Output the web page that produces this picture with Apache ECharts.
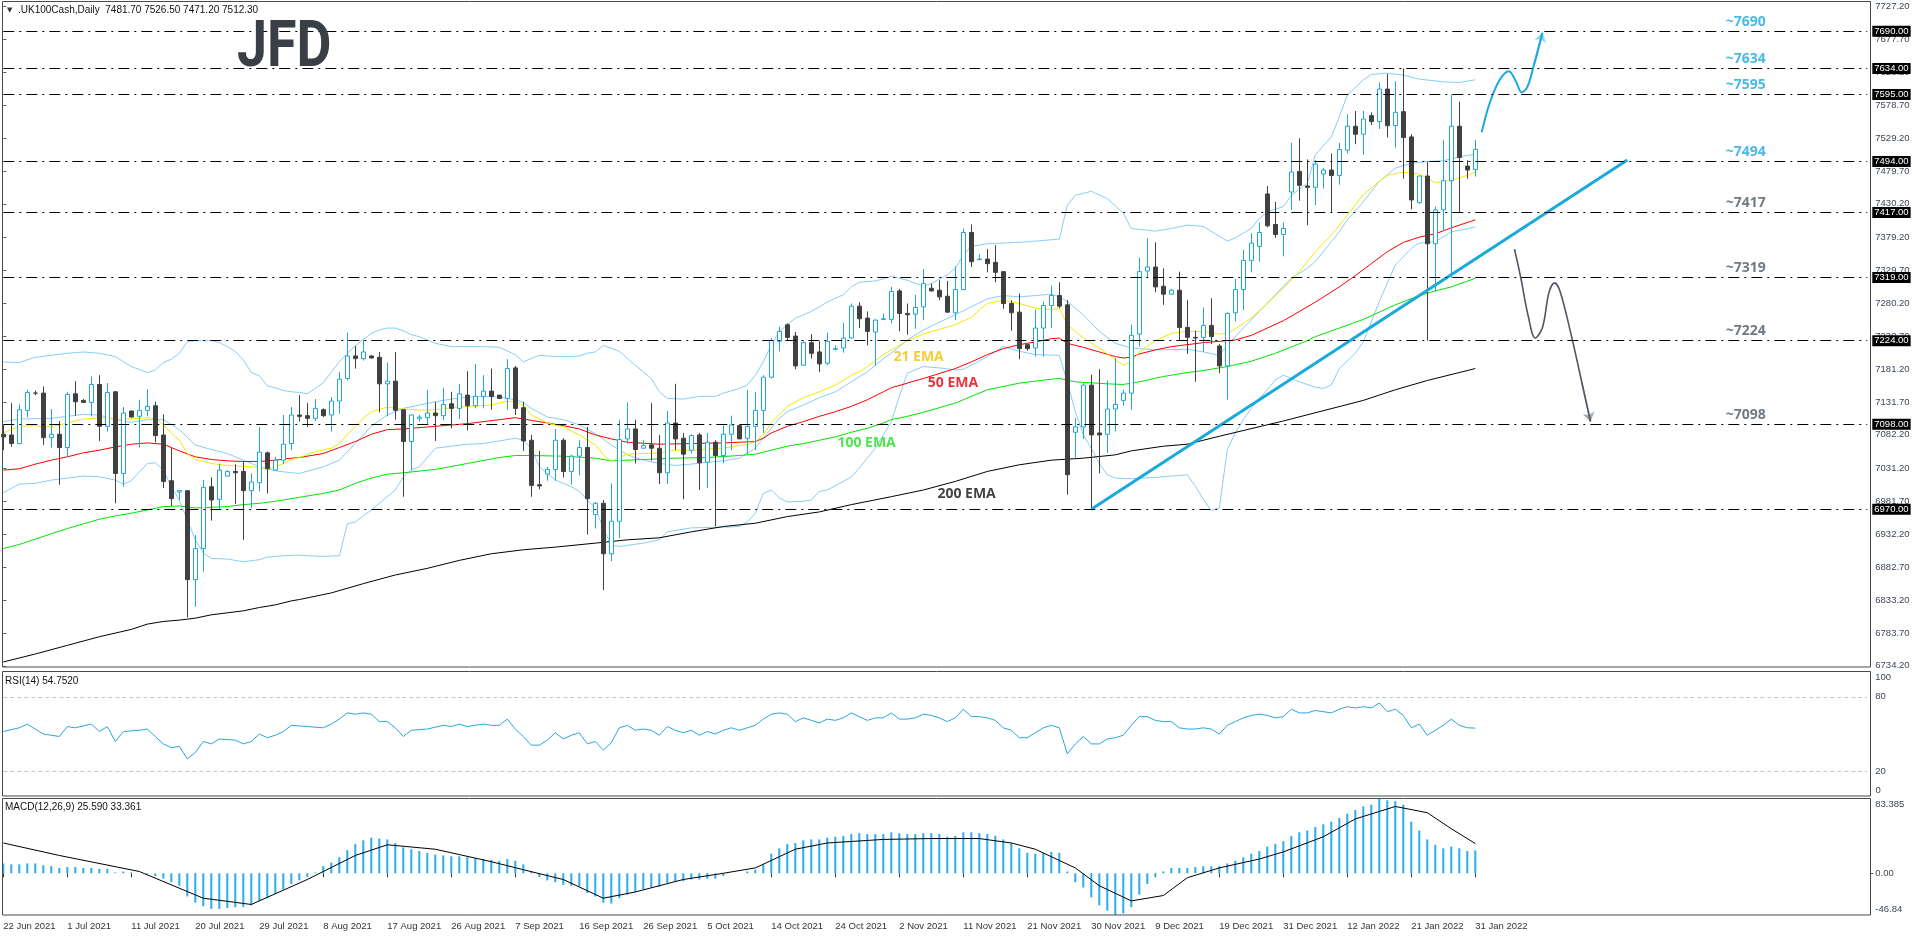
<!DOCTYPE html>
<html>
<head>
<meta charset="utf-8">
<title>UK100Cash Daily</title>
<script src="https://cdn.jsdelivr.net/npm/echarts@6/dist/echarts.min.js"></script>
<style>
  html, body { margin: 0; padding: 0; background: #fff; }
  #chart { width: 1916px; height: 936px; }
</style>
</head>
<body>
<div id="chart"></div>
<script>
// ---- values ----
const tickLabels = ['22 Jun 2021', '1 Jul 2021', '11 Jul 2021', '20 Jul 2021', '29 Jul 2021', '8 Aug 2021',
  '17 Aug 2021', '26 Aug 2021', '7 Sep 2021', '16 Sep 2021', '26 Sep 2021', '5 Oct 2021', '14 Oct 2021',
  '24 Oct 2021', '2 Nov 2021', '11 Nov 2021', '21 Nov 2021', '30 Nov 2021', '9 Dec 2021', '19 Dec 2021',
  '31 Dec 2021', '12 Jan 2022', '21 Jan 2022', '31 Jan 2022'];

// daily bars: [open, close, low, high]
const candles = [
  [7083,7079,7059,7097],[7082,7069,7064,7130],[7069,7120,7068,7128],[7119,7146,7109,7150],[7145,7145,7142,7149],
  [7145,7078,7067,7155],[7078,7083,7063,7121],[7083,7063,7007,7103],[7063,7143,7049,7147],[7144,7132,7111,7163],
  [7134,7131,7131,7136],[7131,7158,7110,7170],[7158,7095,7073,7172],[7095,7146,7087,7160],[7147,7024,6979,7148],
  [7024,7115,7004,7124],[7118,7109,7108,7119],[7110,7119,7063,7135],[7119,7125,7110,7151],[7126,7081,7071,7132],
  [7082,7012,7002,7113],[7013,6986,6975,7062],[6996,6998,6984,6999],[6998,6864,6807,6998],[6864,6911,6823,6931],
  [6911,7003,6876,7014],[7004,6984,6953,7018],[6985,7029,6970,7039],[7020,7027,7019,7029],[7027,7025,6978,7038],
  [7027,6998,6924,7043],[6998,7011,6972,7024],[7010,7056,6997,7094],[7055,7031,6994,7057],[7029,7044,7029,7049],
  [7044,7068,7038,7112],[7069,7112,7059,7124],[7112,7110,7102,7142],[7111,7107,7094,7130],[7107,7122,7103,7136],
  [7120,7111,7109,7122],[7112,7133,7087,7139],[7133,7166,7114,7177],[7167,7201,7164,7236],[7201,7197,7182,7216],
  [7197,7207,7194,7225],[7201,7198,7197,7202],[7199,7159,7116,7207],[7159,7163,7110,7191],[7163,7119,7105,7207],
  [7120,7072,6989,7120],[7072,7112,7029,7113],[7107,7109,7102,7112],[7108,7115,7097,7150],[7115,7111,7073,7132],
  [7111,7128,7104,7153],[7129,7122,7092,7147],[7122,7144,7106,7159],[7142,7126,7089,7178],[7126,7140,7122,7189],
  [7140,7148,7122,7172],[7148,7140,7120,7182],[7142,7137,7136,7142],[7137,7182,7120,7196],[7183,7122,7112,7186],
  [7123,7073,7058,7132],[7074,7006,6989,7082],[7007,7005,7000,7058],[7023,7030,7013,7034],[7030,7074,7013,7091],
  [7074,7027,7018,7077],[7027,7050,7007,7052],[7050,7063,7021,7074],[7063,6986,6932,7094],[6962,6979,6941,6981],
  [6979,6903,6848,6984],[6903,6952,6892,7009],[6952,7075,6927,7105],[7076,7091,7069,7131],[7091,7060,7039,7105],
  [7062,7066,7062,7074],[7067,7062,7043,7130],[7062,7025,7008,7082],[7025,7100,7008,7118],[7100,7076,7059,7159],
  [7077,7053,6985,7085],[7059,7081,7054,7083],[7082,7040,6999,7085],[7041,7071,7002,7085],[7071,7051,6944,7074],
  [7051,7083,7039,7096],[7083,7097,7059,7111],[7096,7076,7076,7097],[7077,7095,7052,7150],[7095,7119,7059,7147],
  [7119,7169,7085,7172],[7169,7224,7167,7228],[7223,7238,7208,7245],[7248,7229,7224,7250],[7231,7186,7181,7237],
  [7187,7221,7187,7224],[7221,7205,7197,7234],[7207,7189,7177,7223],[7190,7223,7187,7236],[7211,7212,7209,7217],
  [7213,7228,7206,7251],[7228,7276,7227,7280],[7276,7257,7243,7282],[7258,7238,7217,7268],[7237,7255,7187,7256],
  [7256,7257,7255,7265],[7256,7298,7250,7305],[7299,7265,7238,7302],[7265,7263,7233,7280],[7264,7274,7242,7293],
  [7275,7310,7255,7332],[7303,7299,7298,7310],[7300,7290,7285,7315],[7291,7267,7266,7314],[7266,7301,7255,7336],
  [7301,7387,7300,7393],[7387,7343,7335,7399],[7346,7347,7346,7354],[7347,7340,7327,7362],[7342,7327,7312,7368],
  [7328,7280,7272,7328],[7280,7266,7239,7285],[7267,7212,7196,7295],[7218,7212,7209,7219],[7213,7243,7200,7271],
  [7243,7277,7200,7283],[7277,7292,7243,7307],[7292,7276,7273,7312],[7278,7022,6992,7285],[7086,7094,7048,7107],
  [7094,7157,7076,7160],[7157,7082,6970,7173],[7085,7082,7024,7181],[7083,7121,7055,7164],[7121,7128,7087,7198],
  [7134,7145,7126,7150],[7145,7232,7120,7248],[7234,7328,7215,7349],[7329,7335,7318,7378],[7335,7305,7297,7372],
  [7306,7294,7278,7333],[7294,7300,7293,7302],[7300,7244,7224,7328],[7244,7229,7204,7285],[7229,7228,7162,7239],
  [7229,7247,7207,7274],[7247,7230,7219,7288],[7216,7186,7175,7219],[7186,7265,7135,7267],[7266,7301,7253,7317],
  [7301,7345,7270,7361],[7345,7371,7327,7386],[7366,7387,7343,7402],[7445,7397,7395,7457],[7399,7384,7379,7433],
  [7384,7393,7351,7402],[7448,7478,7421,7522],[7479,7458,7435,7529],[7457,7455,7398,7497],[7455,7490,7428,7496],
  [7475,7481,7453,7484],[7481,7473,7418,7506],[7473,7512,7459,7522],[7511,7547,7506,7565],[7547,7535,7520,7570],
  [7535,7558,7504,7570],[7563,7554,7549,7568],[7554,7603,7543,7613],[7603,7548,7530,7626],[7548,7568,7515,7615],
  [7569,7530,7468,7634],[7531,7436,7422,7535],[7432,7472,7430,7473],[7472,7370,7224,7494],[7370,7421,7298,7426],
  [7421,7465,7389,7526],[7465,7547,7319,7595],[7547,7500,7418,7584],[7487,7481,7468,7496],[7481.7,7512.3,7471.2,7526.5]
];

// indicator lines: [bar index, value]
const ema21 = [[0,7085],[2,7095],[4,7096],[6,7094],[8,7100],[10,7106],[12,7108],[14,7106],[16,7106],[18,7108],[19,7107],
  [20,7097],[21,7085],[22,7074],[23,7054],[24,7045],[26,7039],[28,7036],[30,7035],[32,7033],[33,7031],[34,7034],[35,7039],
  [36,7045],[37,7048],[39,7057],[41,7062],[42,7069],[43,7082],[44,7095],[45,7107],[46,7117],[48,7124],[50,7121],[53,7119],
  [57,7124],[61,7127],[63,7133],[64,7132],[65,7127],[66,7112],[68,7100],[70,7094],[72,7082],[74,7067],[75,7052],[76,7042],
  [77,7048],[78,7053],[80,7054],[82,7055],[84,7059],[86,7059],[88,7061],[90,7062],[92,7066],[93,7067],[94,7072],[95,7082],
  [96,7100],[97,7112],[98,7125],[100,7138],[102,7147],[104,7157],[106,7172],[107,7177],[108,7185],[110,7203],[111,7210],
  [113,7224],[115,7234],[117,7241],[119,7248],[121,7259],[122,7270],[123,7280],[125,7285],[127,7280],[129,7273],[131,7271],
  [132,7273],[133,7248],[135,7228],[137,7213],[139,7195],[140,7187],[141,7192],[142,7207],[144,7224],[146,7235],[148,7238],
  [150,7238],[152,7234],[153,7235],[154,7242],[156,7258],[158,7280],[160,7303],[162,7328],[164,7358],[166,7383],[168,7413],
  [170,7444],[172,7464],[173,7473],[175,7478],[177,7475],[179,7462],[181,7465],[183,7473],[184,7478]];
const ema50 = [[0,7029],[2,7031],[4,7038],[6,7044],[8,7049],[10,7055],[12,7059],[14,7064],[16,7068],[18,7070],[20,7068],
  [22,7058],[24,7049],[26,7045],[28,7043],[30,7042],[32,7042],[34,7044],[36,7047],[37,7048],[40,7054],[42,7063],[44,7072],
  [46,7083],[48,7090],[50,7091],[54,7095],[58,7099],[62,7105],[64,7108],[66,7104],[68,7100],[70,7096],[72,7091],[74,7082],
  [76,7076],[78,7071],[82,7068],[86,7069],[90,7070],[94,7072],[95,7077],[96,7085],[98,7095],[100,7102],[102,7110],[104,7117],
  [106,7125],[108,7135],[110,7147],[111,7153],[115,7167],[119,7182],[121,7192],[123,7203],[125,7212],[127,7218],[129,7222],
  [131,7227],[132,7228],[133,7220],[135,7214],[137,7207],[139,7200],[140,7198],[141,7199],[142,7204],[144,7210],[146,7215],
  [148,7218],[150,7221],[154,7225],[156,7232],[158,7243],[160,7254],[164,7282],[167,7305],[169,7322],[171,7340],[173,7358],
  [175,7372],[177,7380],[179,7385],[181,7394],[184,7406]];
const ema100 = [[0,6911],[2,6917],[4,6925],[6,6933],[8,6941],[10,6948],[12,6955],[14,6960],[16,6964],[18,6969],[20,6974],
  [22,6975],[24,6972],[26,6973],[28,6974],[30,6977],[32,6979],[34,6982],[36,6986],[37,6988],[40,6994],[42,6999],[44,7009],
  [46,7017],[48,7023],[50,7025],[54,7030],[58,7039],[62,7048],[64,7051],[66,7051],[70,7050],[74,7047],[76,7043],[80,7045],
  [84,7047],[88,7048],[92,7051],[94,7053],[96,7059],[98,7065],[100,7069],[102,7074],[104,7079],[106,7086],[108,7092],
  [110,7100],[111,7105],[113,7110],[115,7116],[117,7123],[119,7130],[123,7150],[127,7160],[131,7166],[132,7167],[134,7162],
  [138,7159],[140,7158],[142,7162],[145,7170],[148,7176],[150,7179],[153,7185],[156,7193],[159,7205],[163,7224],[164,7230],
  [167,7243],[170,7256],[172,7267],[174,7278],[177,7292],[179,7299],[181,7305],[184,7318]];
const ema200 = [[0,6740],[4,6752],[8,6765],[12,6778],[16,6789],[18,6797],[20,6801],[22,6803],[24,6806],[26,6811],[28,6814],
  [30,6817],[32,6822],[34,6826],[36,6832],[37,6834],[41,6844],[45,6858],[49,6871],[53,6881],[57,6893],[61,6903],[65,6909],
  [69,6913],[74,6919],[78,6924],[82,6927],[86,6936],[90,6944],[94,6949],[98,6959],[102,6966],[106,6977],[111,6989],
  [115,6999],[119,7012],[123,7027],[127,7037],[131,7044],[135,7047],[139,7052],[141,7058],[145,7065],[148,7068],[152,7080],
  [160,7103],[170,7134],[174,7150],[178,7164],[184,7182]];
const bbUpper = [[0,7192],[2,7191],[4,7199],[6,7202],[8,7205],[10,7207],[12,7205],[14,7200],[16,7185],[18,7176],[19,7180],
  [20,7191],[21,7196],[22,7205],[23,7222],[24,7224],[26,7224],[27,7221],[28,7215],[29,7208],[30,7195],[31,7176],[32,7171],
  [33,7156],[34,7153],[35,7149],[36,7147],[37,7146],[38,7144],[39,7152],[40,7161],[42,7192],[43,7205],[44,7216],[45,7226],
  [46,7235],[47,7240],[48,7243],[49,7243],[50,7239],[51,7233],[52,7230],[54,7220],[56,7215],[58,7215],[60,7215],[62,7214],
  [64,7203],[65,7192],[66,7197],[67,7202],[69,7200],[71,7200],[72,7201],[73,7205],[74,7207],[75,7217],[77,7208],[79,7187],
  [81,7167],[82,7147],[83,7137],[85,7136],[87,7140],[89,7140],[90,7145],[92,7152],[93,7157],[94,7172],[95,7192],[96,7218],
  [97,7238],[98,7248],[99,7258],[100,7263],[101,7268],[102,7275],[103,7282],[104,7288],[105,7293],[106,7305],[107,7312],
  [109,7314],[110,7317],[111,7321],[113,7315],[115,7306],[116,7310],[118,7323],[119,7333],[120,7353],[121,7366],[123,7370],
  [125,7371],[128,7373],[132,7377],[133,7428],[134,7443],[136,7449],[138,7438],[140,7416],[141,7393],[144,7389],[146,7393],
  [148,7398],[150,7396],[153,7374],[154,7379],[156,7393],[157,7408],[158,7418],[160,7426],[161,7443],[163,7461],[164,7504],
  [166,7531],[167,7561],[168,7594],[170,7617],[171,7625],[173,7627],[175,7624],[177,7618],[180,7614],[182,7613],[184,7617]];
const bbMiddle = [[0,7102],[2,7106],[6,7107],[8,7110],[10,7113],[12,7112],[14,7105],[16,7101],[18,7105],[20,7105],[22,7090],
  [24,7067],[26,7060],[28,7054],[30,7044],[32,7034],[34,7028],[36,7025],[37,7024],[40,7034],[42,7044],[44,7069],[46,7095],
  [48,7112],[50,7122],[52,7127],[54,7132],[56,7136],[58,7139],[60,7140],[62,7139],[64,7135],[65,7131],[66,7122],[68,7109],
  [70,7105],[72,7097],[74,7084],[76,7067],[78,7052],[80,7044],[82,7039],[84,7036],[86,7038],[88,7041],[90,7043],[92,7047],
  [94,7062],[95,7077],[96,7092],[97,7107],[98,7117],[100,7127],[102,7138],[104,7147],[106,7162],[108,7177],[110,7197],
  [111,7205],[113,7225],[115,7240],[117,7252],[119,7263],[121,7275],[123,7287],[125,7292],[127,7290],[129,7292],[131,7294],
  [132,7290],[133,7283],[135,7263],[137,7238],[139,7220],[141,7213],[144,7210],[148,7211],[150,7207],[152,7202],[153,7217],
  [155,7243],[157,7268],[159,7293],[161,7318],[163,7333],[164,7343],[166,7373],[167,7388],[168,7406],[170,7433],[172,7464],
  [174,7484],[176,7491],[178,7494],[180,7495],[182,7501],[184,7505]];
const bbLower = [[0,6995],[2,7008],[4,7009],[6,7014],[8,7017],[10,7020],[12,7019],[14,7014],[15,7008],[16,7013],[18,7039],
  [19,7040],[20,7029],[21,7004],[22,6984],[23,6954],[24,6924],[25,6904],[26,6896],[28,6895],[30,6891],[32,6894],[33,6898],
  [35,6900],[37,6901],[38,6900],[40,6899],[42,6900],[43,6948],[44,6951],[46,6969],[48,6989],[49,6999],[50,7019],[51,7029],
  [52,7034],[54,7062],[56,7065],[58,7068],[60,7069],[62,7073],[64,7077],[65,7074],[66,7062],[67,7034],[68,7024],[69,7014],
  [71,7004],[72,6997],[73,6984],[74,6972],[75,6941],[76,6916],[77,6914],[80,6919],[82,6924],[83,6936],[86,6942],[90,6943],
  [92,6944],[93,6951],[94,6964],[95,6994],[96,6999],[97,6987],[98,6981],[100,6982],[101,6984],[102,6997],[103,6999],
  [105,7012],[106,7019],[107,7032],[109,7062],[111,7102],[112,7140],[113,7175],[115,7185],[117,7183],[119,7180],[120,7181],
  [121,7187],[123,7200],[125,7215],[127,7208],[129,7203],[132,7202],[133,7162],[134,7117],[135,7082],[136,7062],[137,7039],
  [138,7022],[139,7017],[141,7016],[144,7018],[148,7022],[149,7005],[150,6985],[151,6968],[152,6972],[153,7060],[154,7085],
  [155,7105],[156,7122],[157,7137],[158,7150],[159,7165],[160,7172],[162,7162],[164,7154],[165,7152],[166,7157],[167,7182],
  [169,7205],[170,7222],[172,7283],[174,7338],[176,7363],[177,7371],[179,7373],[181,7388],[184,7395]];

const rsi = [[0,52],[2,55],[3,58],[5,50],[7,48],[8,56],[9,55],[11,58],[12,52],[13,56],[14,44],[15,52],[17,53],[18,54],[19,48],
  [20,42],[21,39],[22,40],[23,30],[24,35],[25,44],[26,42],[27,46],[29,45],[30,42],[31,44],[32,50],[33,47],[34,49],[35,52],
  [36,57],[38,56],[40,55],[41,58],[42,62],[43,67],[44,66],[45,67],[46,66],[47,60],[48,60],[49,55],[50,48],[51,53],[53,54],
  [55,57],[56,56],[57,58],[58,56],[59,57],[60,58],[61,57],[62,57],[63,62],[64,54],[65,48],[66,41],[67,41],[68,45],[69,51],
  [70,46],[71,49],[72,51],[73,42],[74,44],[75,37],[76,43],[77,55],[78,57],[79,53],[80,54],[81,53],[82,49],[83,56],[84,53],
  [85,51],[86,53],[87,49],[88,52],[89,50],[90,53],[91,55],[92,53],[93,55],[94,57],[95,62],[96,66],[97,67],[98,66],[99,60],
  [100,63],[101,61],[102,59],[103,62],[104,61],[105,63],[106,67],[107,64],[108,61],[109,63],[110,63],[111,67],[112,62],
  [113,62],[114,63],[115,66],[116,65],[117,63],[118,60],[119,63],[120,70],[121,64],[122,64],[123,63],[124,61],[125,55],
  [126,53],[127,47],[128,47],[129,51],[130,55],[131,57],[132,55],[133,34],[134,42],[135,48],[136,42],[137,42],[138,46],
  [139,47],[140,49],[141,57],[142,64],[143,64],[144,61],[145,60],[146,60],[147,55],[148,54],[149,54],[150,55],[151,54],
  [152,50],[153,57],[154,60],[155,63],[156,65],[157,66],[158,65],[159,63],[160,64],[161,70],[162,67],[163,67],[164,69],
  [165,68],[166,67],[167,70],[168,72],[169,71],[170,72],[171,71],[172,75],[173,68],[174,70],[175,65],[176,55],[177,58],
  [178,49],[179,53],[180,57],[181,62],[182,57],[183,55],[184,54.752]];

const macdMain = [
  11,10,10,11,11,9,8,6,7,7, 6,6,5,5,1,2,1,0,-1,-3,
  -6,-10,-14,-26,-33,-37,-40,-40,-39,-38, -38,-36,-31,-28,-23,-18,-12,-8,-4,1,
  8,12,18,26,33,37,40,39,38,34, 29,27,25,23,21,20,19,19,18,17,
  16,15,14,16,14,10,2,-4,-8,-10, -13,-14,-15,-22,-26,-33,-34,-28,-24,-21,
  -18,-16,-15,-11,-9,-9,-7,-7,-6,-6, -3,0,0,2,4,10,22,28,33,34,
  37,38,38,40,41,42,44,45,44,44, 44,46,45,44,44,45,45,44,41,42,
  46,46,45,44,42,38,34,28,23,22, 23,24,23,2,-10,-16,-27,-36,-42,-46.84,
  -45,-38,-24,-12,-4,2,6,6,6,7, 8,8,8,11,14,18,22,25,30,33,
  36,42,46,48,52,55,58,62,67,71, 75,77,83.385,82,81,77,58,48,38,32,
  28,30,28,25,25.59];
const macdSignal = [[0,34],[7,20],[17,2],[25,-28],[31,-35],[38,-7],[44,20],[48,32],[54,27],[61,13],[65,4],[70,-7],[75,-28],
  [79,-21],[85,-7],[90,0],[94,6],[99,27],[103,34],[110,38],[116,39],[122,39],[126,34],[129,27],[134,6],[137,-14],[141,-31],
  [145,-25],[148,-5],[152,6],[157,16],[160,24],[165,41],[169,61],[174,75],[178,68],[181,50],[184,33.361]];

const levels = [7690, 7634, 7595, 7494, 7417, 7319, 7224, 7098, 6970];
const levelNotes = ['~7690', '~7634', '~7595', '~7494', '~7417', '~7319', '~7224', '~7098'];
const lastPrice = 7512.3;
const priceTicks = [7727.2, 7677.7, 7628.2, 7578.7, 7529.2, 7479.7, 7430.2, 7379.2, 7329.7, 7280.2, 7230.7,
  7181.2, 7131.7, 7082.2, 7031.2, 6981.7, 6932.2, 6882.7, 6833.2, 6783.7, 6734.2];
const rsiTicks = [0, 20, 80, 100];
const macdTicks = [-46.84, 0, 83.385];

// drawn analysis: trend line and the two scenario arrows, [bar, price]
const trendLine = [[136, 6970], [203, 7496]];
const upPath = [[184.8, 7538], [185.8, 7582], [187, 7616], [188.2, 7630], [189.1, 7614], [189.8, 7598], [190.5, 7606], [191.3, 7638], [192.4, 7688]];
const downPath = [[188.9, 7362], [189.7, 7318], [190.6, 7262], [191.5, 7228], [192.4, 7244], [193.2, 7296], [193.9, 7311], [194.6, 7298], [196, 7232], [197.3, 7162], [198.4, 7102]];

// ---- chart ----
const SLOTS = 234;
const cats = Array.from({ length: SLOTS }, (_, i) => String(i));
const CYAN = '#1aa9dc';
const GREY = '#4e5762';
const AXIS_TXT = '#3b4657';
const FONT = 'Liberation Sans';

const chart = echarts.init(document.getElementById('chart'));

const showTick = (i) => i % 8 === 0 && i / 8 < tickLabels.length;
const hiddenCat = (g) => ({ type: 'category', gridIndex: g, data: cats, boundaryGap: false, show: false });
const hiddenVal = (g) => ({ type: 'value', gridIndex: g, min: 0, max: SLOTS - 1, show: false });
const line = (name, data, color, extra) => Object.assign({
  name, type: 'line', xAxisIndex: 1, yAxisIndex: 0, data, showSymbol: false, silent: true, z: 2,
  lineStyle: { color, width: 1 }
}, extra || {});

const boxLabel = (bg) => ({
  show: true, position: 'end', distance: 5, formatter: (p) => p.value.toFixed(2),
  backgroundColor: bg, color: '#fff', padding: [1, 2, 0, 2], fontSize: 9.5, fontFamily: FONT
});

const NOTE_FONT = { fontSize: 14, fontWeight: 'bold', fontFamily: 'Open Sans' };
const NOTE_X = 215.3;
const notes = levelNotes.map((t, i) => ({
  value: [NOTE_X, levels[i]],
  label: Object.assign({ show: true, formatter: t, position: 'top', align: 'left', distance: 2,
    color: i < 4 ? CYAN : GREY }, NOTE_FONT)
}));
const emaNotes = [
  { value: [111.2, 7199], label: { formatter: '21 EMA', color: '#f2c200' } },
  { value: [115.5, 7160], label: { formatter: '50 EMA', color: '#e4000b' } },
  { value: [104.2, 7070], label: { formatter: '100 EMA', color: '#1ee01e' } },
  { value: [116.7, 6993], label: { formatter: '200 EMA', color: '#111' } }
].map((d) => ({ value: d.value, label: Object.assign({ show: true, position: 'right', distance: 0 }, NOTE_FONT, d.label) }));

const subLabel = { margin: 5, fontSize: 9.5, color: AXIS_TXT, fontFamily: FONT };

const option = {
  animation: false,
  backgroundColor: '#fff',
  textStyle: { fontFamily: FONT },
  grid: [
    { left: 3.3, width: 1864, top: 1, height: 666 },
    { left: 3.3, width: 1864, top: 672, height: 124 },
    { left: 3.3, width: 1864, top: 799, height: 116 }
  ],
  xAxis: [
    hiddenCat(0),
    hiddenVal(0),
    hiddenVal(1),
    {
      type: 'category', gridIndex: 2, data: cats, boundaryGap: false,
      axisLine: { show: false },
      axisTick: { show: true, interval: showTick, length: 4, lineStyle: { color: '#333' } },
      axisLabel: { interval: showTick, formatter: (v, i) => tickLabels[i / 8] || '', align: 'left',
        margin: 6, fontSize: 9.5, color: '#333', fontFamily: FONT }
    }
  ],
  yAxis: [
    {
      type: 'value', gridIndex: 0, position: 'right', offset: 3, min: 6732.4, max: 7735.7,
      splitLine: { show: false }, axisLine: { show: false },
      axisTick: { show: true, length: 3, customValues: priceTicks, lineStyle: { color: '#555' } },
      axisLabel: { customValues: priceTicks, formatter: (v) => v.toFixed(2), margin: 5,
        fontSize: 9.5, color: AXIS_TXT, fontFamily: FONT }
    },
    {
      type: 'value', gridIndex: 1, position: 'right', offset: 3, min: 0, max: 100,
      splitLine: { show: false }, axisLine: { show: false }, axisTick: { show: false },
      // the bottom "0" is drawn as a graphic text below, as MT4 lifts it inside the panel
      axisLabel: Object.assign({
        customValues: rsiTicks.slice(1),
        formatter: (v) => v === rsiTicks[3] ? '{t|' + v + '}' : String(v),
        rich: { t: { padding: [11, 0, 0, 0] } }
      }, subLabel)
    },
    {
      type: 'value', gridIndex: 2, position: 'right', offset: 3, min: macdTicks[0], max: macdTicks[2],
      splitLine: { show: false }, axisLine: { show: false },
      axisTick: { show: true, length: 3, customValues: [0], lineStyle: { color: '#555' } },
      axisLabel: Object.assign({
        customValues: macdTicks, showMinLabel: true, showMaxLabel: true,
        formatter: (v) => v === macdTicks[2] ? '{t|' + v + '}' : v === macdTicks[0] ? '{b|' + v + '}' : v.toFixed(2),
        rich: { t: { padding: [11, 0, 0, 0] }, b: { padding: [0, 0, 11, 0] } }
      }, subLabel)
    }
  ],
  series: [
    line('BB upper', bbUpper, '#87cefa'),
    line('BB middle', bbMiddle, '#87cefa'),
    line('BB lower', bbLower, '#87cefa'),
    line('200 EMA', ema200, '#000000'),
    line('100 EMA', ema100, '#00e400'),
    line('50 EMA', ema50, '#ff0000'),
    line('21 EMA', ema21, '#f0ec00'),
    {
      name: 'UK100', type: 'candlestick', xAxisIndex: 0, yAxisIndex: 0, data: candles, barWidth: 5, z: 3,
      itemStyle: { color: '#ffffff', color0: '#404040', borderColor: '#1ea6d8', borderColor0: '#404040', borderWidth: 1 },
      markLine: {
        silent: true, symbol: 'none', animation: false,
        lineStyle: { color: '#000', width: 1, type: [11, 5, 2, 5] },
        data: levels.map((v) => ({ yAxis: v, label: boxLabel('#000') }))
          .concat([{ yAxis: lastPrice, lineStyle: { opacity: 0 }, label: boxLabel('#4d4d4d') }])
      }
    },
    line('trend', trendLine, CYAN, { lineStyle: { color: CYAN, width: 3 }, z: 4 }),
    line('up scenario', upPath, CYAN, { smooth: 0.35, lineStyle: { color: CYAN, width: 2 }, z: 4 }),
    line('down scenario', downPath, GREY, { smooth: 0.35, lineStyle: { color: GREY, width: 1.6 }, z: 4 }),
    {
      type: 'lines', coordinateSystem: 'cartesian2d', xAxisIndex: 1, yAxisIndex: 0, silent: true, z: 4,
      symbol: ['none', 'arrow'], symbolSize: 9,
      data: [
        { coords: upPath.slice(-2), lineStyle: { color: CYAN, width: 2 } },
        { coords: downPath.slice(-2), lineStyle: { color: GREY, width: 1.6 } }
      ]
    },
    {
      type: 'scatter', xAxisIndex: 1, yAxisIndex: 0, symbolSize: 1, silent: true, z: 5,
      itemStyle: { color: 'transparent' }, data: notes.concat(emaNotes)
    },
    {
      name: 'RSI', type: 'line', xAxisIndex: 2, yAxisIndex: 1, data: rsi, showSymbol: false, silent: true,
      lineStyle: { color: '#2aa6e0', width: 1 },
      markLine: {
        silent: true, symbol: 'none', label: { show: false },
        lineStyle: { color: '#c4c4c4', type: [4, 3], width: 1 },
        data: [{ yAxis: 80 }, { yAxis: 20 }]
      }
    },
    {
      name: 'MACD', type: 'bar', xAxisIndex: 3, yAxisIndex: 2, data: macdMain, barWidth: 2, silent: true,
      itemStyle: { color: '#2aaee4' }
    },
    {
      name: 'Signal', type: 'line', xAxisIndex: 3, yAxisIndex: 2, data: macdSignal, showSymbol: false, silent: true,
      lineStyle: { color: '#000', width: 1 }
    }
  ],
  graphic: [
    { type: 'rect', shape: { x: 2.5, y: 1.5, width: 1868, height: 665.5 }, style: { fill: 'none', stroke: '#4a4a4a' }, z: 10, silent: true },
    { type: 'rect', shape: { x: 2.5, y: 671.5, width: 1868, height: 124.5 }, style: { fill: 'none', stroke: '#4a4a4a' }, z: 10, silent: true },
    { type: 'rect', shape: { x: 2.5, y: 798.5, width: 1868, height: 116.5 }, style: { fill: 'none', stroke: '#4a4a4a' }, z: 10, silent: true },
    { type: 'text', x: 1875.5, y: 790, style: { text: String(rsiTicks[0]), font: '9.5px "Liberation Sans"', fill: AXIS_TXT, verticalAlign: 'middle' }, z: 10 },
    { type: 'text', x: 7, y: 10, style: { text: '▼', font: '7px "DejaVu Sans"', fill: '#333', verticalAlign: 'middle' }, z: 10 },
    { type: 'text', x: 18, y: 10, style: { text: '.UK100Cash,Daily  7481.70 7526.50 7471.20 7512.30', font: '10px "Liberation Sans"', fill: '#111', verticalAlign: 'middle' }, z: 10 },
    { type: 'text', x: 5, y: 681, style: { text: 'RSI(14) 54.7520', font: '10px "Liberation Sans"', fill: '#111', verticalAlign: 'middle' }, z: 10 },
    { type: 'text', x: 5, y: 807, style: { text: 'MACD(12,26,9) 25.590 33.361', font: '10px "Liberation Sans"', fill: '#111', verticalAlign: 'middle' }, z: 10 },
    { type: 'text', x: 237, y: 50, scaleX: 0.84, style: { text: 'JFD', font: 'bold 64px Roboto', fill: '#3a3f47', verticalAlign: 'middle' }, z: 10 }
  ]
};

chart.setOption(option);
</script>
</body>
</html>
